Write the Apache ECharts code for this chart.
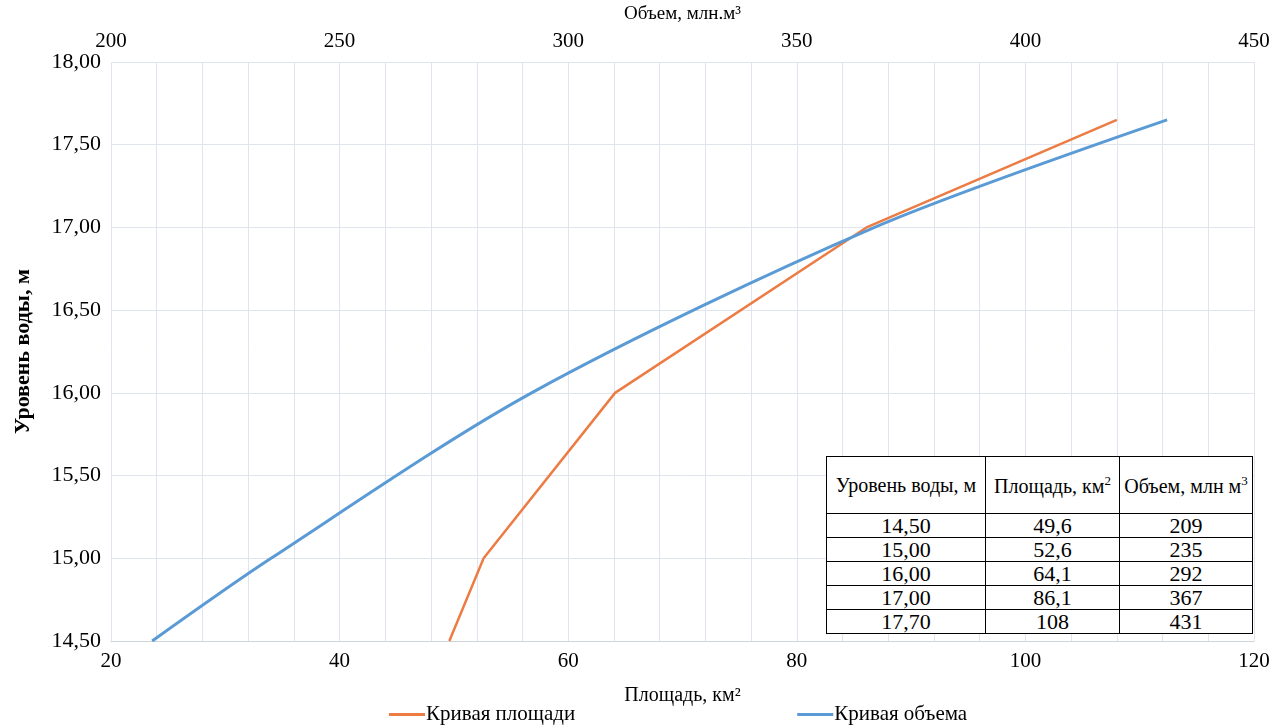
<!DOCTYPE html>
<html>
<head>
<meta charset="utf-8">
<script src="https://cdn.jsdelivr.net/npm/echarts@6/dist/echarts.min.js"></script>
<style>
    html,body{margin:0;padding:0;background:#fff;}
    #chart{width:1275px;height:726px;}
    .tbl{position:absolute;left:826px;top:456px;border-collapse:collapse;background:#fff;
        font-family:'Liberation Serif','DejaVu Serif',serif;color:#000;}
    .tbl th,.tbl td{border:1.5px solid #000;padding:0;text-align:center;}
    .tbl th{font-weight:normal;font-size:20px;height:56px;white-space:nowrap;}
    .tbl th sup{font-size:13px;}
    .tbl td{font-size:22px;height:23px;line-height:20px;}
</style>
</head>
<body>
<div id="chart"></div>
<table class="tbl"><thead></thead><tbody></tbody></table>
<script>
// данные (уровень воды / площадь / объем)
var levels=[14.5,15.0,16.0,17.0,17.65];
var areas=[49.6,52.6,64.1,86.1,108];
var volumes=[209,235,292,367,431];

// таблица справа внизу
var tblHead=['Уровень воды, м','Площадь, км<sup>2</sup>','Объем, млн м<sup>3</sup>'];
var tblLevels=['14,50','15,00','16,00','17,00','17,70'];
var tblAreas=['49,6','52,6','64,1','86,1','108'];
var tblVolumes=['209','235','292','367','431'];
var colW=[158,133,132];

var thtml='<tr>';
for(var i=0;i<tblHead.length;i++){
    thtml+='<th style="width:'+colW[i]+'px">'+tblHead[i]+'</th>';
}
thtml+='</tr>';
document.querySelector('.tbl thead').innerHTML=thtml;

var bhtml='';
for(var i=0;i<tblLevels.length;i++){
    bhtml+='<tr><td>'+tblLevels[i]+'</td><td>'+tblAreas[i]+'</td><td>'+tblVolumes[i]+'</td></tr>';
}
document.querySelector('.tbl tbody').innerHTML=bhtml;

var areaData=[],volData=[];
for(var i=0;i<levels.length;i++){
    areaData.push([areas[i],levels[i]]);
    volData.push([volumes[i],levels[i]]);
}

var font='Liberation Serif';
var gridColor='#dfe4ee';

var myChart=echarts.init(document.getElementById('chart'));
var option={
    animation:false,
    textStyle:{fontFamily:font,color:'#000'},
    grid:{left:111,right:21,top:62,bottom:85,outerBoundsMode:'none',containLabel:false},
    legend:{
        left:384,top:699,itemGap:222,
        icon:'rect',itemWidth:36,itemHeight:3,
        textStyle:{fontFamily:font,fontSize:21,color:'#000',padding:[0,0,0,-4]},
        data:['Кривая площади','Кривая объема']
    },
    xAxis:[{
        type:'value',position:'bottom',min:20,max:120,interval:20,
        name:'Площадь, км²',nameLocation:'middle',nameGap:45,
        nameTextStyle:{fontFamily:font,fontSize:20,color:'#000'},
        axisLine:{show:true,lineStyle:{color:'#cfd3da',width:1}},
        axisTick:{show:false},
        axisLabel:{fontFamily:font,fontSize:21,color:'#000',margin:10},
        splitLine:{show:false}
    },{
        type:'value',position:'top',min:200,max:450,interval:50,
        name:'Объем, млн.м³',nameLocation:'middle',nameGap:38,
        nameTextStyle:{fontFamily:font,fontSize:19,color:'#000'},
        axisLine:{show:false},
        axisTick:{show:false},
        axisLabel:{fontFamily:font,fontSize:21,color:'#000',margin:10},
        splitLine:{show:true,lineStyle:{color:gridColor,width:1}},
        minorTick:{show:false,splitNumber:5},
        minorSplitLine:{show:true,lineStyle:{color:gridColor,width:1}}
    }],
    yAxis:{
        type:'value',min:14.5,max:18,interval:0.5,
        name:'Уровень воды, м',nameLocation:'middle',nameGap:77,
        nameTextStyle:{fontFamily:font,fontSize:22,fontWeight:'bold',color:'#000'},
        axisLine:{show:false},
        axisTick:{show:false},
        axisLabel:{fontFamily:font,fontSize:22,color:'#000',margin:10,
            formatter:function(v){return v.toFixed(2).replace('.',',');}},
        splitLine:{show:true,lineStyle:{color:gridColor,width:1}}
    },
    series:[{
        name:'Кривая площади',type:'line',xAxisIndex:0,
        data:areaData,showSymbol:false,symbol:'none',
        lineStyle:{color:'#ec7c44',width:2.5},
        itemStyle:{color:'#ec7c44'}
    },{
        name:'Кривая объема',type:'line',xAxisIndex:1,
        data:volData,showSymbol:false,symbol:'none',smooth:0.3,
        lineStyle:{color:'#5b9bd5',width:3},
        itemStyle:{color:'#5b9bd5'}
    }]
};
myChart.setOption(option);
</script>
</body>
</html>
